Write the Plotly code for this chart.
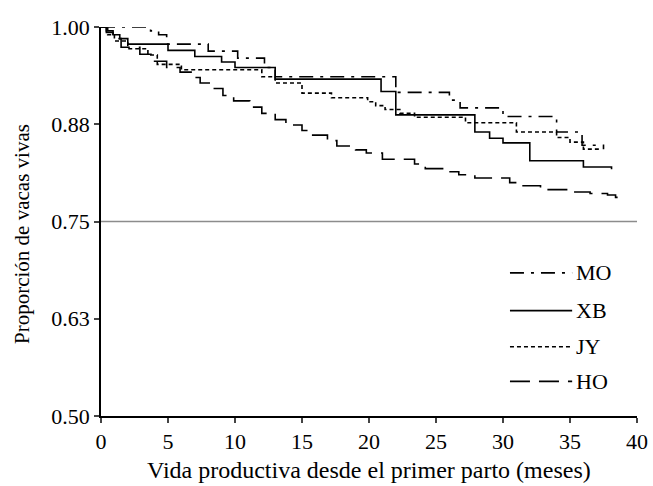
import plotly.graph_objects as go

# ---- data ----
mo_t = [0, 3.7, 4.3, 4.9, 8.0, 10.2, 12.2, 13.0, 22.0, 26.0, 26.8, 30.0, 34.0, 35.9, 37.5]
mo_s = [1.0, 0.995, 0.99, 0.978, 0.969, 0.96, 0.948, 0.936, 0.916, 0.906, 0.896, 0.885, 0.865, 0.848, 0.843]

xb_t = [0, 0.4, 0.9, 1.4, 2.0, 5.0, 7.0, 9.0, 10.0, 13.0, 20.9, 22.0, 27.9, 29.0, 30.0, 32.0, 36.0, 38.1]
xb_s = [1.0, 0.995, 0.99, 0.985, 0.978, 0.970, 0.962, 0.955, 0.948, 0.933, 0.917, 0.887, 0.865, 0.857, 0.851, 0.828, 0.820, 0.817]

jy_t = [0, 0.5, 1.0, 2.0, 3.5, 4.2, 6.0, 12.0, 13.0, 15.0, 17.2, 19.9, 20.5, 21.2, 22.3, 23.4, 27.2, 31.0, 34.0, 35.0, 36.0, 37.2]
jy_s = [1.0, 0.99, 0.982, 0.972, 0.964, 0.952, 0.945, 0.936, 0.928, 0.915, 0.909, 0.904, 0.899, 0.894, 0.889, 0.884, 0.877, 0.865, 0.858, 0.852, 0.843, 0.840]

ho_t = [0, 0.4, 0.9, 1.5, 2.9, 4.0, 4.9, 5.9, 7.0, 7.4, 8.3, 9.1, 9.9, 11.1, 12.0, 13.0, 13.8, 15.0,
        15.8, 16.9, 17.6, 19.0, 19.8, 21.0, 23.4, 24.2, 25.9, 26.7, 27.9, 30.5, 31.3, 32.8, 35.2,
        36.5, 37.8, 38.4, 39.0]
ho_s = [1.0, 0.993, 0.985, 0.974, 0.965, 0.956, 0.948, 0.942, 0.935, 0.928, 0.921, 0.912, 0.905,
        0.897, 0.889, 0.881, 0.874, 0.867, 0.861, 0.854, 0.847, 0.842, 0.838, 0.830, 0.824, 0.818,
        0.814, 0.810, 0.806, 0.800, 0.796, 0.791, 0.788, 0.786, 0.784, 0.781, 0.781]

labels = ["MO", "XB", "JY", "HO"]
x_ticks = [0, 5, 10, 15, 20, 25, 30, 35, 40]
y_ticks = [0.5, 0.625, 0.75, 0.875, 1.0]
y_ticktext = ["0.50", "0.63", "0.75", "0.88", "1.00"]
ref_level = 0.75
x_title = "Vida productiva desde el primer parto (meses)"
y_title = "Proporción de vacas vivas"

FONT = "Liberation Serif, Times New Roman, serif"
dashes = ["14px,7px,3px,7px", "solid", "4px,3px", "20px,9px"]
series = [(mo_t, mo_s), (xb_t, xb_s), (jy_t, jy_s), (ho_t, ho_s)]

fig = go.Figure()
for (t, s), name, d in zip(series, labels, dashes):
    fig.add_trace(go.Scatter(x=t, y=s, mode="lines", name=name,
                             line=dict(color="black", width=1.6, dash=d, shape="hv"),
                             showlegend=False, hoverinfo="skip"))

# reference line at 0.75
fig.add_shape(type="line", xref="x", yref="y", x0=0, x1=40, y0=ref_level, y1=ref_level,
              line=dict(color="#8c8c8c", width=1.5), layer="below")

# hand-drawn legend (long sample lines like the reference)
leg_y = [0.368, 0.271, 0.178, 0.089]
for name, d, yy in zip(labels, dashes, leg_y):
    fig.add_shape(type="line", xref="paper", yref="paper", x0=0.763, x1=0.879, y0=yy, y1=yy,
                  line=dict(color="black", width=1.6, dash=d))
    fig.add_annotation(xref="paper", yref="paper", x=0.882, y=yy, text=name, showarrow=False,
                       xanchor="left", yanchor="middle",
                       font=dict(family=FONT, size=22, color="black"))

# axis titles as annotations (placed like the reference)
fig.add_annotation(xref="paper", yref="paper", x=0.5, y=-0.139, text=x_title, showarrow=False,
                   xanchor="center", yanchor="middle",
                   font=dict(family=FONT, size=24, color="black"))
fig.add_annotation(xref="paper", yref="paper", x=-0.147, y=0.4685, text=y_title, showarrow=False,
                   xanchor="center", yanchor="middle", textangle=-90,
                   font=dict(family=FONT, size=21, color="black"))

fig.update_layout(
    width=653, height=486,
    margin=dict(l=101, r=16, t=27, b=70),
    paper_bgcolor="white", plot_bgcolor="white",
    font=dict(family=FONT, size=22, color="black"),
    showlegend=False, hovermode=False,
)
fig.update_xaxes(range=[0, 40], tickvals=x_ticks, ticks="outside", ticklen=5, tickwidth=1.5,
                 showline=True, linecolor="black", linewidth=1.5, showgrid=False, zeroline=False,
                 automargin=False, tickfont=dict(size=22))
fig.update_yaxes(range=[0.5, 1.0], tickvals=y_ticks, ticktext=y_ticktext, ticks="outside",
                 ticklen=5, tickwidth=1.5, showline=True, linecolor="black", linewidth=1.5,
                 showgrid=False, zeroline=False, automargin=False, tickfont=dict(size=22))

fig.write_html("out.html", config={"displayModeBar": False},
               post_script="document.body.style.margin='0';document.body.style.overflow='hidden';")
